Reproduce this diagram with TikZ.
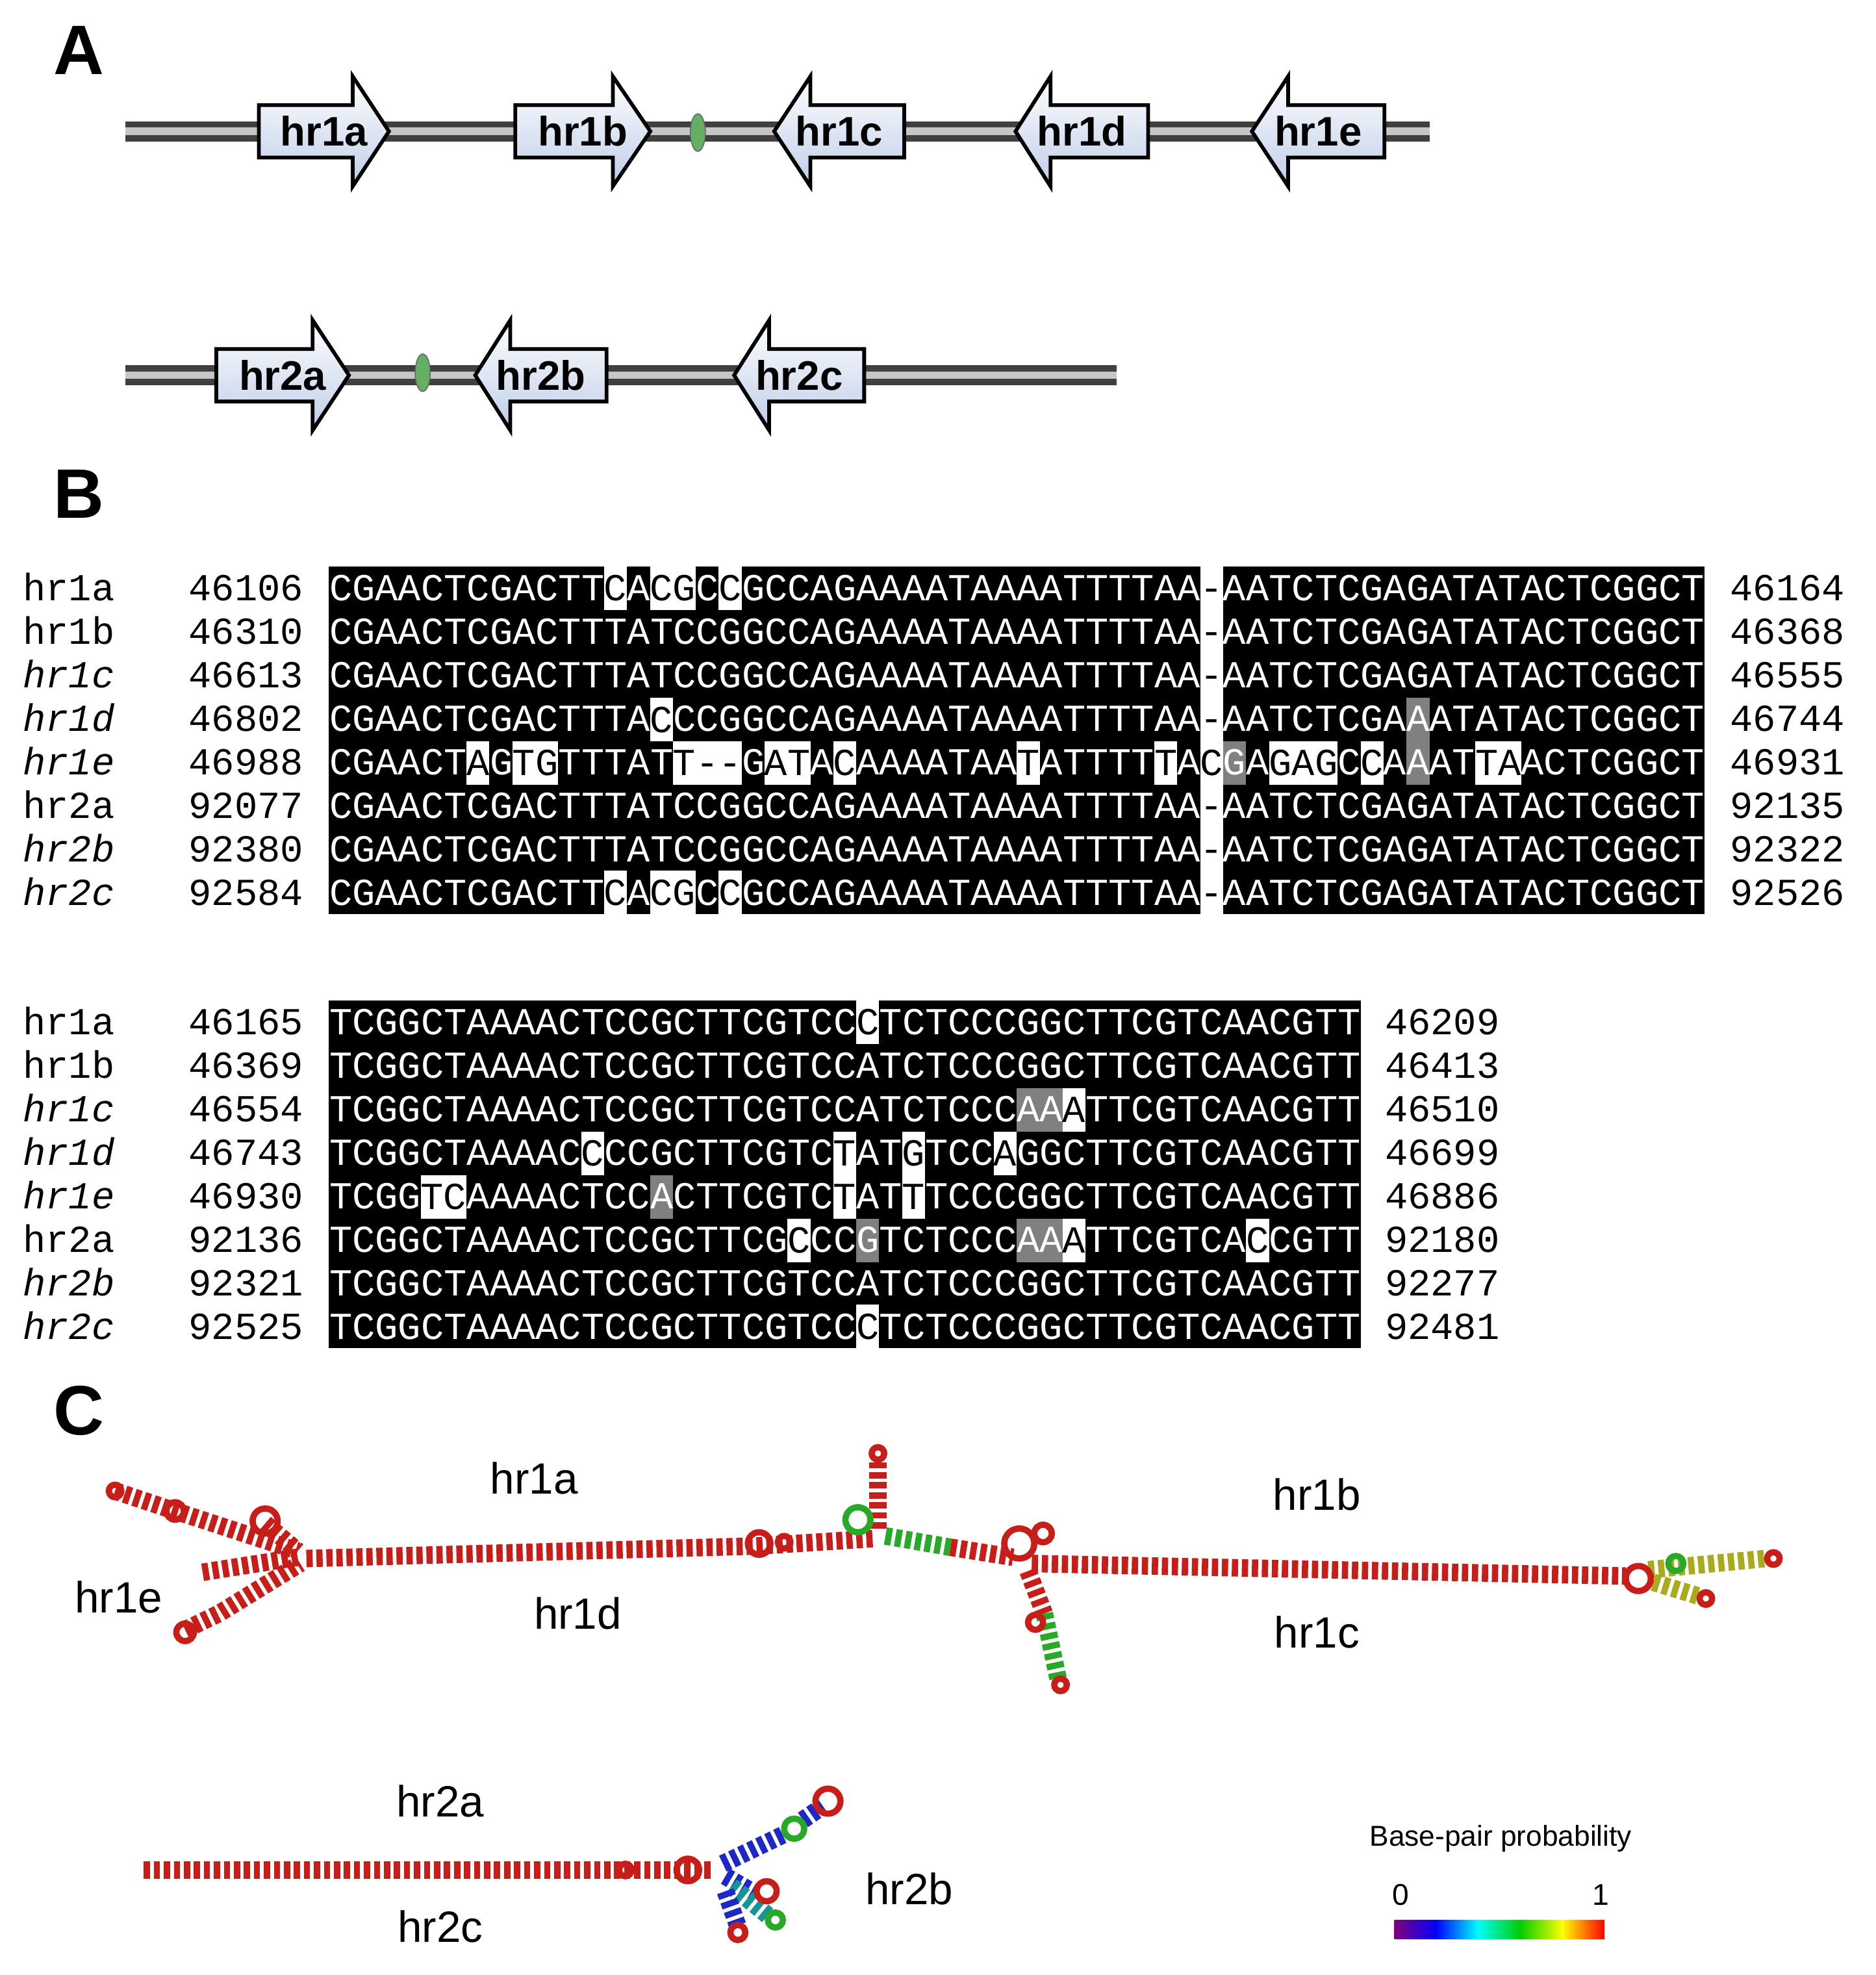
\documentclass[tikz,border=0pt]{standalone}
\usepackage{fontspec}
\setmainfont{Liberation Sans}
\setmonofont{Liberation Mono}
\definecolor{rnared}{RGB}{200,30,25}
\definecolor{rnagreen}{RGB}{40,170,40}
\definecolor{rnablue}{RGB}{30,40,200}
\definecolor{arrblue}{RGB}{190,205,232}
\tikzset{
  seq/.style={inner sep=0pt,font=\fontsize{15.27}{16}\selectfont\ttfamily},
  hrlab/.style={inner sep=0pt,font=\fontsize{16.5}{18}\selectfont\bfseries},
  rnalab/.style={inner sep=0pt,font=\fontsize{17.5}{19}\selectfont},
  panel/.style={inner sep=0pt,font=\fontsize{28}{30}\selectfont\bfseries},
  stem/.style={line width=7,draw=rnared,dash pattern=on 2.5 off 1.5},
  rloop/.style={line width=2.5,draw=rnared},
}
\def\cw{18.333}
% white column (mismatch) : x0, y, col, char
\newcommand\wcol[4]{%
  \fill[white] ({#1+(#3-1)*\cw},{#2-17.4}) rectangle ({#1+#3*\cw},{#2+17.4});
  \node[seq,anchor=base,text=black] at ({#1+(#3-0.5)*\cw},{#2+10}) {#4};}
% gray column : x0, y, col
\newcommand\gcol[3]{%
  \fill[gray] ({#1+(#3-1)*\cw},{#2-17.4}) rectangle ({#1+#3*\cw},{#2+17.4});}
% block arrows : name, body start, body end, tip, y
\newcommand\rblock[5]{%
  \path[draw=black,line width=1.5,top color=white,bottom color=arrblue]
    (#2,#5-21) -- (#3,#5-21) -- (#3,#5-44) -- (#4,#5) -- (#3,#5+44) -- (#3,#5+21) -- (#2,#5+21) -- cycle;
  \node[hrlab] (#1) at ({(#2+#4)/2},#5) {#1};}
\begin{document}
\begin{tikzpicture}[x=0.5pt,y=0.5pt,yscale=-1]
\useasboundingbox (0,0) rectangle (1500,1579);

% panel A
\node[panel] (pA) at (63,40) {A};
\draw[line width=8,black!75] (100,105) -- (1143,105);
\draw[line width=3,gray!45] (100,105) -- (1143,105);
\rblock{hr1a}{207}{282}{311}{105}
\rblock{hr1b}{412}{490}{520}{105}
\rblock{hr1c}{723}{648}{619}{105}
\rblock{hr1d}{918}{840}{812}{105}
\rblock{hr1e}{1107}{1030}{1001}{105}
\draw[fill={rgb,255:red,100;green,175;blue,100},draw=black!60] (558,106) ellipse (6 and 15);

\draw[line width=8,black!75] (100,300) -- (893,300);
\draw[line width=3,gray!45] (100,300) -- (893,300);
\rblock{hr2a}{173}{250}{279}{300}
\rblock{hr2b}{485}{408}{380}{300}
\rblock{hr2c}{691}{615}{587}{300}
\draw[fill={rgb,255:red,100;green,175;blue,100},draw=black!60] (338,298) ellipse (6 and 15);

% panel B
\node[panel] (pB) at (63,395) {B};
\fill[black] (263,453) rectangle ({263+38*\cw},731);
\fill[black] ({263+39*\cw},453) rectangle ({263+60*\cw},731);
\fill[black] (263,800) rectangle ({263+45*\cw},1078);
% gray columns
\gcol{263}{575.4}{48}
\gcol{263}{610.1}{40}
\gcol{263}{610.1}{48}
\gcol{263}{887.5}{31}\gcol{263}{887.5}{32}
\gcol{263}{956.9}{15}
\gcol{263}{991.6}{24}\gcol{263}{991.6}{31}\gcol{263}{991.6}{32}
% sequences
\foreach \nm/\st/\sq/\en [count=\i] in {
  hr1a/46106/CGAACTCGACTTCACGCCGCCAGAAAATAAAATTTTAA-AATCTCGAGATATACTCGGCT/46164,
  hr1b/46310/CGAACTCGACTTTATCCGGCCAGAAAATAAAATTTTAA-AATCTCGAGATATACTCGGCT/46368,
  \textit{hr1c}/46613/CGAACTCGACTTTATCCGGCCAGAAAATAAAATTTTAA-AATCTCGAGATATACTCGGCT/46555,
  \textit{hr1d}/46802/CGAACTCGACTTTACCCGGCCAGAAAATAAAATTTTAA-AATCTCGAAATATACTCGGCT/46744,
  \textit{hr1e}/46988/CGAACTAGTGTTTATT--GATACAAAATAATATTTTTACGAGAGCCAAATTAACTCGGCT/46931,
  hr2a/92077/CGAACTCGACTTTATCCGGCCAGAAAATAAAATTTTAA-AATCTCGAGATATACTCGGCT/92135,
  \textit{hr2b}/92380/CGAACTCGACTTTATCCGGCCAGAAAATAAAATTTTAA-AATCTCGAGATATACTCGGCT/92322,
  \textit{hr2c}/92584/CGAACTCGACTTCACGCCGCCAGAAAATAAAATTTTAA-AATCTCGAGATATACTCGGCT/92526}{
  \pgfmathsetmacro\yy{453+34.75*(\i-0.5)}
  \node[seq,anchor=base west] (n\i) at (18,\yy+10) {\nm};
  \node[seq,anchor=base east] (s\i) at (243,\yy+10) {\st};
  \node[seq,anchor=base west,text=white] (q\i) at (263,\yy+10) {\sq};
  \node[seq,anchor=base west] (e\i) at (1383,\yy+10) {\en};
}
\foreach \nm/\st/\sq/\en [count=\i] in {
  hr1a/46165/TCGGCTAAAACTCCGCTTCGTCCCTCTCCCGGCTTCGTCAACGTT/46209,
  hr1b/46369/TCGGCTAAAACTCCGCTTCGTCCATCTCCCGGCTTCGTCAACGTT/46413,
  \textit{hr1c}/46554/TCGGCTAAAACTCCGCTTCGTCCATCTCCCAAATTCGTCAACGTT/46510,
  \textit{hr1d}/46743/TCGGCTAAAACCCCGCTTCGTCTATGTCCAGGCTTCGTCAACGTT/46699,
  \textit{hr1e}/46930/TCGGTCAAAACTCCACTTCGTCTATTTCCCGGCTTCGTCAACGTT/46886,
  hr2a/92136/TCGGCTAAAACTCCGCTTCGCCCGTCTCCCAAATTCGTCACCGTT/92180,
  \textit{hr2b}/92321/TCGGCTAAAACTCCGCTTCGTCCATCTCCCGGCTTCGTCAACGTT/92277,
  \textit{hr2c}/92525/TCGGCTAAAACTCCGCTTCGTCCCTCTCCCGGCTTCGTCAACGTT/92481}{
  \pgfmathsetmacro\yy{800+34.75*(\i-0.5)}
  \node[seq,anchor=base west] (m\i) at (18,\yy+10) {\nm};
  \node[seq,anchor=base east] (t\i) at (243,\yy+10) {\st};
  \node[seq,anchor=base west,text=white] (r\i) at (263,\yy+10) {\sq};
  \node[seq,anchor=base west] (f\i) at (1107,\yy+10) {\en};
}
% gap column
\foreach \i in {1,2,3,4,6,7,8}{\wcol{263}{453+34.75*(\i-0.5)}{39}{-}}
\wcol{263}{610.1}{39}{C}
% mismatches block 1
\foreach \r in {470.4,713.6}{\wcol{263}{\r}{13}{C}\wcol{263}{\r}{15}{C}\wcol{263}{\r}{16}{G}\wcol{263}{\r}{18}{C}}
\wcol{263}{575.4}{15}{C}
\wcol{263}{610.1}{7}{A}\wcol{263}{610.1}{9}{T}\wcol{263}{610.1}{10}{G}
\wcol{263}{610.1}{16}{T}\wcol{263}{610.1}{17}{-}\wcol{263}{610.1}{18}{-}
\wcol{263}{610.1}{20}{A}\wcol{263}{610.1}{21}{T}\wcol{263}{610.1}{23}{C}
\wcol{263}{610.1}{31}{T}\wcol{263}{610.1}{37}{T}
\wcol{263}{610.1}{42}{G}\wcol{263}{610.1}{43}{A}\wcol{263}{610.1}{44}{G}\wcol{263}{610.1}{46}{C}
\wcol{263}{610.1}{51}{T}\wcol{263}{610.1}{52}{A}
% mismatches block 2
\wcol{263}{817.4}{24}{C}
\wcol{263}{1060.6}{24}{C}
\wcol{263}{887.5}{33}{A}
\wcol{263}{922.1}{12}{C}\wcol{263}{922.1}{23}{T}\wcol{263}{922.1}{26}{G}\wcol{263}{922.1}{30}{A}
\wcol{263}{956.9}{5}{T}\wcol{263}{956.9}{6}{C}\wcol{263}{956.9}{23}{T}\wcol{263}{956.9}{26}{T}
\wcol{263}{991.6}{21}{C}\wcol{263}{991.6}{33}{A}\wcol{263}{991.6}{41}{C}

% panel C
\node[panel] (pC) at (63,1128) {C};
% structure hr1
\draw[stem] (92,1192) -- (140,1208) -- (238,1240);
\draw[stem] (212,1218) -- (238,1240);
\draw[stem] (162,1257) -- (238,1245);
\draw[stem] (148,1303) -- (175,1290) -- (240,1250);
\draw[stem] (245,1246) -- (605,1236) -- (700,1230);
\draw[stem] (702,1222) -- (702,1166);
\draw[stem,draw=rnagreen] (708,1228) -- (760,1237);
\draw[stem] (760,1237) -- (810,1245);
\draw[stem] (825,1250) -- (1300,1260);
\draw[stem] (822,1256) -- (835,1290);
\draw[stem,draw=rnagreen] (835,1290) -- (846,1342);
\draw[stem,draw={rgb,255:red,170;green,170;blue,30}] (1318,1255) -- (1412,1246);
\draw[stem,draw={rgb,255:red,170;green,170;blue,30}] (1322,1265) -- (1358,1276);
\draw[rloop] (92,1192) circle (5) (140,1208) circle (7) (212,1216) circle (10)
  (148,1305) circle (7) (607,1234) circle (9) (627,1233) circle (5)
  (702,1162) circle (5) (815,1234) circle (12) (834,1226) circle (7)
  (1310,1262) circle (10) (1418,1246) circle (5) (1364,1278) circle (5)
  (848,1347) circle (5) (828,1297) circle (6);
\draw[line width=2.5,draw=rnagreen] (686,1215) circle (10) (1340,1250) circle (6);
% structure hr2
\draw[stem] (115,1495) -- (570,1495);
\draw[stem,draw=rnablue] (578,1490) -- (628,1466);
\draw[stem,draw=rnablue] (642,1455) -- (658,1444);
\draw[stem,draw=rnablue] (580,1500) -- (606,1515);
\draw[stem,draw={rgb,255:red,20;green,150;blue,150}] (585,1508) -- (616,1533);
\draw[stem,draw=rnablue] (580,1512) -- (590,1540);
\draw[rloop] (500,1495) circle (5) (550,1495) circle (9) (613,1512) circle (8)
  (662,1440) circle (10) (590,1545) circle (6);
\draw[line width=2.5,draw=rnagreen] (635,1462) circle (8) (620,1535) circle (6);
% labels
\node[rnalab] (l1a) at (427,1182) {hr1a};
\node[rnalab] (l1b) at (1053,1195) {hr1b};
\node[rnalab] (l1e) at (95,1277) {hr1e};
\node[rnalab] (l1d) at (462,1290) {hr1d};
\node[rnalab] (l1c) at (1053,1305) {hr1c};
\node[rnalab] (l2a) at (352,1440) {hr2a};
\node[rnalab] (l2c) at (352,1540) {hr2c};
\node[rnalab] (l2b) at (727,1510) {hr2b};
% legend
\node[inner sep=0pt,font=\fontsize{11.5}{13}\selectfont] (leg) at (1200,1470) {Base-pair probability};
\node[inner sep=0pt,font=\fontsize{12}{13}\selectfont] (l0) at (1120,1515) {0};
\node[inner sep=0pt,font=\fontsize{12}{13}\selectfont] (l1) at (1280,1515) {1};
\shade[left color=violet,right color=blue] (1115,1535) rectangle (1149,1550);
\shade[left color=blue,right color=cyan] (1148,1535) rectangle (1182,1550);
\shade[left color=cyan,right color=green!80!black] (1181,1535) rectangle (1216,1550);
\shade[left color=green!80!black,right color=yellow] (1215,1535) rectangle (1250,1550);
\shade[left color=yellow,right color=red] (1249,1535) rectangle (1283,1550);
\end{tikzpicture}
\end{document}
